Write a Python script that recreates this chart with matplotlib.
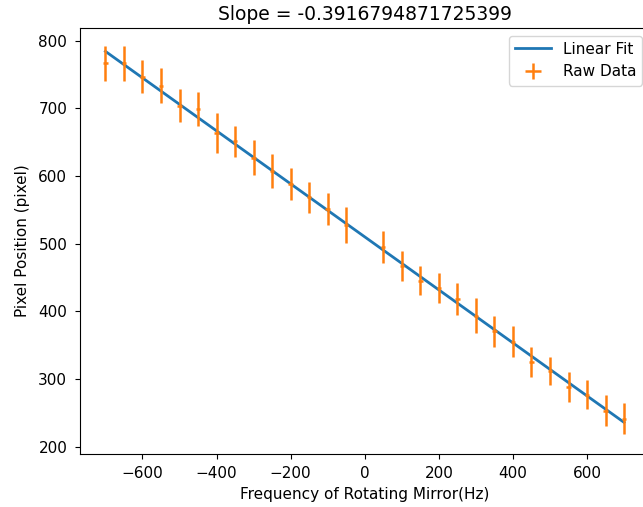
import numpy as np
import matplotlib
matplotlib.use("Agg")
import matplotlib.pyplot as plt

# mirror frequency (Hz) -- no point at 0
freq = [-700, -650, -600, -550, -500, -450, -400, -350, -300, -250, -200, -150, -100, -50,
        50, 100, 150, 200, 250, 300, 350, 400, 450, 500, 550, 600, 650, 700]
# pixel position
pos = [766.5, 766.5, 746.8, 733.8, 703.9, 699.3, 663.6, 651.3, 627.1, 607.2, 588.5, 568.3, 551.0, 527.2,
       494.9, 467.5, 445.3, 435.0, 418.0, 393.5, 370.7, 355.2, 325.2, 311.5, 288.5, 276.9, 253.3, 241.4]
pos_err = [25.6, 25.6, 24.6, 25.4, 24.1, 25.3, 29.1, 22.7, 26.1, 25.4, 23.9, 23.4, 23.4, 26.6,
           23.9, 22.2, 21.7, 22.2, 23.4, 25.9, 22.9, 23.1, 22.7, 20.7, 21.9, 21.7, 22.7, 22.7]
freq_err = 6

fit_slope = -0.3916794871725399
fit_intercept = 510.1


def main():
    fig = plt.figure(figsize=(6.43, 5.07), dpi=100)
    # axes run a little past the right edge, like the cropped original
    ax = fig.add_axes([79.5 / 643, 53 / 507, 570.5 / 643, 426 / 507])

    x = np.array(freq)
    xs = np.array([x.min(), x.max()])
    ax.plot(xs, fit_slope * xs + fit_intercept, color='C0', lw=2.0, label='Linear Fit')
    ax.errorbar(x, pos, xerr=freq_err, yerr=pos_err, fmt='none', ecolor='C1',
                elinewidth=1.8, label='Raw Data')

    ax.set_xlim(-770, 770)
    ax.set_ylim(189.2, 818.8)
    ax.set_xticks([-600, -400, -200, 0, 200, 400, 600])
    ax.set_yticks([200, 300, 400, 500, 600, 700, 800])
    ax.tick_params(labelsize=11, length=3.8, pad=5)

    ax.set_xlabel('Frequency of Rotating Mirror(Hz)', fontsize=11)
    ax.set_ylabel('Pixel Position (pixel)', fontsize=11, labelpad=6)
    ax.set_title('Slope = ' + str(fit_slope), fontsize=13.5)
    ax.legend(loc='upper right', fontsize=11, handlelength=2.3)

    fig.savefig('out.png', dpi=100)


if __name__ == "__main__":
    main()
